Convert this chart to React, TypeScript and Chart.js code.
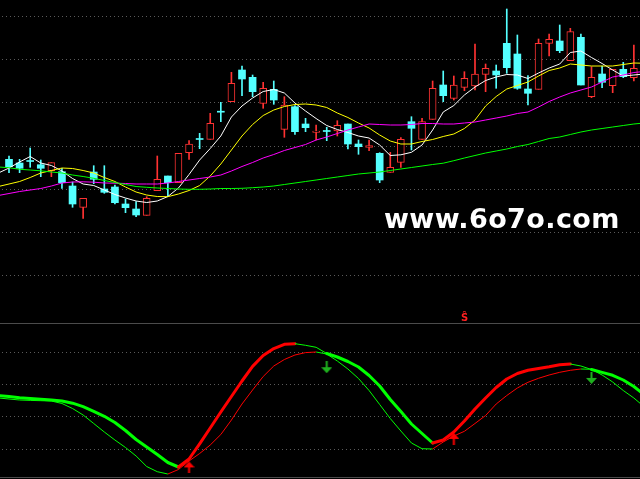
import React, { useEffect, useRef } from 'react';
import { Chart, registerables } from 'chart.js';

Chart.register(...registerables);

// ---- data (price units for the candle panel, indicator units for the lower panel) ----
const candleIdx = Array.from({ length: 60 }, (_, i) => i);
const lineIdx = [-1, ...candleIdx, 60];

const openP = [14.07, 13.7, 13.95, 13.53, 12.93, 12.83, 11.4, 9.27, 12.8, 11.1, 11.3, 9.6, 9.1, 8.47, 10.93, 12.4, 11.73, 14.73, 16.15, 16.07,
  18.88, 19.83, 23.0, 22.27, 19.67, 21.07, 17.07, 19.33, 17.6, 16.77, 16.95, 16.9, 17.6, 15.6, 15.27, 14.67, 12.77, 13.77, 17.83, 16.07,
  18.07, 21.5, 20.17, 21.27, 21.4, 22.57, 22.9, 25.67, 24.6, 21.1, 21.07, 25.67, 25.9, 23.93, 26.27, 20.33, 22.6, 21.43, 23.07, 22.23];
const highP = [14.4, 14.07, 15.2, 14.0, 13.73, 13.17, 11.8, 10.17, 13.43, 13.43, 11.5, 10.1, 9.83, 10.33, 14.4, 12.4, 14.67, 15.93, 16.67, 18.67,
  19.77, 22.77, 23.4, 22.5, 21.77, 21.9, 20.33, 19.43, 18.17, 17.5, 17.27, 17.93, 17.6, 16.0, 16.0, 14.73, 14.77, 16.23, 18.33, 18.17,
  21.9, 22.9, 22.4, 22.83, 25.6, 23.6, 23.5, 29.1, 26.5, 22.43, 26.1, 26.6, 27.5, 27.17, 26.6, 23.33, 23.4, 23.07, 23.77, 25.5];
const lowP = [12.73, 12.73, 13.27, 12.33, 12.33, 11.17, 9.27, 8.17, 11.63, 10.67, 9.6, 8.73, 8.33, 8.47, 10.93, 10.33, 11.73, 14.07, 15.13, 16.07,
  17.83, 19.83, 20.43, 20.33, 19.17, 19.57, 16.27, 16.57, 16.83, 16.0, 15.93, 16.4, 15.1, 14.57, 14.93, 11.73, 12.77, 13.27, 15.0, 16.07,
  18.07, 19.83, 20.0, 20.93, 21.0, 20.83, 21.17, 22.67, 21.07, 19.5, 21.07, 24.4, 24.73, 23.93, 21.5, 20.23, 21.23, 20.73, 22.23, 21.9];
const closeP = [13.33, 13.17, 13.85, 13.17, 13.73, 11.73, 9.6, 10.17, 12.07, 10.77, 9.73, 9.23, 8.5, 10.17, 12.07, 11.73, 14.67, 15.6, 16.05, 17.67,
  18.78, 21.67, 22.1, 20.83, 21.17, 20.0, 19.5, 16.83, 17.23, 16.9, 16.85, 17.47, 15.6, 15.33, 15.43, 12.0, 13.27, 16.07, 17.17, 17.83,
  21.17, 20.43, 21.5, 22.17, 22.6, 23.17, 22.5, 23.23, 21.17, 20.67, 25.67, 26.07, 24.93, 26.83, 21.5, 22.27, 21.77, 23.07, 22.33, 23.17];

const ma5 = [12.7, 13.2, 13.8, 14.35, 13.7, 13.45, 12.9, 12.15, 11.6, 11.45, 11.0, 10.55, 10.2, 9.9, 9.75, 9.9, 10.35, 11.2, 12.55, 14.0, 15.15,
  16.4, 18.3, 19.4, 20.2, 20.85, 21.05, 20.7, 19.7, 18.9, 18.15, 17.45, 17.05, 16.75, 16.4, 16.2, 15.5, 14.45, 14.52, 14.77, 15.5, 17.0,
  18.8, 19.45, 20.5, 21.3, 21.95, 22.3, 22.55, 22.5, 22.15, 22.7, 23.2, 23.6, 24.75, 24.9, 24.25, 23.65, 23.0, 22.4, 22.5, 22.6];
const ma10 = [11.35, 11.6, 11.85, 12.25, 12.7, 12.95, 13.2, 13.15, 12.95, 12.7, 12.25, 11.85, 11.3, 10.8, 10.5, 10.35, 10.33, 10.6, 10.95, 11.45,
  12.4, 13.6, 15.0, 16.4, 17.55, 18.45, 19.0, 19.35, 19.55, 19.6, 19.5, 19.25, 18.7, 18.25, 17.7, 17.2, 16.5, 15.9, 15.6, 15.6, 15.85, 16.05,
  16.35, 16.6, 17.15, 18.0, 19.4, 20.35, 21.1, 21.45, 21.8, 22.4, 22.95, 23.2, 23.6, 23.5, 23.4, 23.4, 23.4, 23.55, 23.7, 23.67];
const ma20 = [10.45, 10.65, 10.85, 11.0, 11.15, 11.4, 11.7, 11.8, 11.82, 11.78, 11.7, 11.68, 11.65, 11.6, 11.6, 11.6, 11.7, 11.85, 12.0, 12.15,
  12.3, 12.5, 12.9, 13.35, 13.75, 14.2, 14.55, 14.95, 15.25, 15.55, 16.0, 16.3, 16.65, 17.0, 17.3, 17.6, 17.55, 17.5, 17.5, 17.55, 17.65,
  17.65, 17.6, 17.6, 17.7, 17.8, 18.0, 18.2, 18.4, 18.65, 18.8, 19.3, 19.85, 20.3, 20.7, 21.0, 21.3, 21.8, 22.3, 22.5, 22.75, 22.85];
const ma60 = [13.3, 13.23, 13.07, 13.0, 12.92, 12.8, 12.7, 12.5, 12.35, 12.17, 11.95, 11.75, 11.55, 11.35, 11.27, 11.2, 11.15, 11.1, 11.07, 11.07,
  11.1, 11.15, 11.15, 11.17, 11.23, 11.3, 11.4, 11.55, 11.7, 11.85, 12.0, 12.15, 12.3, 12.45, 12.6, 12.7, 12.8, 12.95, 13.1, 13.25, 13.4,
  13.55, 13.68, 13.93, 14.2, 14.45, 14.7, 14.9, 15.1, 15.35, 15.55, 15.85, 16.15, 16.3, 16.55, 16.8, 17.0, 17.15, 17.3, 17.45, 17.6, 17.7];

const kLine = [10.45, 10.35, 10.23, 10.15, 10.07, 10.0, 9.9, 9.68, 9.33, 8.87, 8.37, 7.75, 6.95, 6.05, 5.3, 4.55, 3.75, 3.3, 4.1, 5.62, 7.2,
  8.8, 10.35, 11.9, 13.36, 14.45, 15.14, 15.57, 15.63, 15.47, 15.27, 14.65, 14.3, 13.85, 13.3, 12.45, 11.4, 10.05, 8.85, 7.6, 6.65, 5.7,
  6.0, 6.8, 7.9, 9.1, 10.2, 11.25, 12.1, 12.65, 12.97, 13.15, 13.32, 13.52, 13.6, 13.4, 13.05, 12.76, 12.47, 12.0, 11.35, 10.5];
const dLine = [10.2, 10.1, 10.0, 9.96, 9.93, 9.9, 9.65, 9.15, 8.5, 7.65, 6.8, 6.0, 5.25, 4.4, 3.35, 2.83, 2.6, 3.05, 3.9, 4.65, 5.5, 6.55,
  8.0, 9.6, 11.0, 12.35, 13.4, 14.05, 14.5, 14.74, 14.8, 14.6, 13.9, 13.1, 12.15, 10.95, 9.55, 8.15, 6.9, 5.7, 5.13, 5.1, 5.8, 6.4, 6.87,
  7.65, 8.45, 9.6, 10.45, 11.2, 11.77, 12.17, 12.5, 12.77, 12.97, 13.1, 13.07, 12.5, 11.8, 10.95, 10.2, 9.3];

const upSignalIdx = [17, 42];
const upSignalVal = [3.26, 6.11];
const downSignalIdx = [30, 55];
const downSignalVal = [13.28, 12.21];

const priceGrid = [2.47, 6.79, 11.11, 15.43, 19.75, 24.07, 28.39];
const indicatorGrid = [5.13, 8.37, 11.57, 14.77];
const panelBorders = [17.67, 2.3];

// ---- styles ----
const RED = '#ff3232';
const CYAN = '#54ffff';
const LRED = '#ff0000';
const LGREEN = '#00ff00';

const regimeAt = (x: number) => {
  let last = -Infinity;
  let r = 'down';
  upSignalIdx.forEach((s) => { if (s <= x && s > last) { last = s; r = 'up'; } });
  downSignalIdx.forEach((s) => { if (s <= x && s > last) { last = s; r = 'down'; } });
  return r;
};

function makeArrow(color: string, up: boolean) {
  const c = document.createElement('canvas');
  c.width = 11;
  c.height = 12;
  const g = c.getContext('2d')!;
  g.fillStyle = color;
  g.beginPath();
  if (up) {
    g.moveTo(5.5, 0); g.lineTo(11, 6); g.lineTo(0, 6); g.closePath(); g.fill();
    g.fillRect(4.5, 6, 2, 6);
  } else {
    g.fillRect(4.5, 0, 2, 6);
    g.moveTo(0, 6); g.lineTo(11, 6); g.lineTo(5.5, 12); g.closePath(); g.fill();
  }
  return c;
}

const gridPlugin = {
  id: 'panelGrid',
  beforeDraw(chart: any) {
    const { ctx, width, height } = chart;
    ctx.save();
    ctx.fillStyle = '#000';
    ctx.fillRect(0, 0, width, height);
    ctx.restore();
  },
  beforeDatasetsDraw(chart: any) {
    const { ctx, chartArea, scales } = chart;
    ctx.save();
    ctx.lineWidth = 1;
    ctx.strokeStyle = '#5a5a5a';
    ctx.setLineDash([1, 3]);
    ctx.lineDashOffset = -2;
    const hline = (py: number) => {
      const y = Math.round(py) + 0.5;
      ctx.beginPath();
      ctx.moveTo(chartArea.left, y);
      ctx.lineTo(chartArea.right, y);
      ctx.stroke();
    };
    priceGrid.forEach((v) => hline(scales.y.getPixelForValue(v)));
    indicatorGrid.forEach((v) => hline(scales.y2.getPixelForValue(v)));
    ctx.setLineDash([]);
    ctx.strokeStyle = '#4b4b4b';
    panelBorders.forEach((v) => hline(scales.y2.getPixelForValue(v)));
    ctx.restore();
  },
};

export default function App() {
  const ref = useRef<HTMLCanvasElement>(null);

  useEffect(() => {
    document.body.style.margin = '0';
    document.body.style.background = '#000';
    const canvas = ref.current!;
    const isUp = candleIdx.map((i) => closeP[i] >= openP[i]);

    const maLine = (data: number[], color: string) => ({
      type: 'line' as const,
      data: lineIdx.map((x, k) => ({ x, y: data[k] })),
      borderColor: color,
      borderWidth: 1,
      pointRadius: 0,
      tension: 0,
      yAxisID: 'y',
      order: 1,
    });

    const chart = new Chart(canvas, {
      type: 'bar',
      data: {
        datasets: [
          {
            type: 'bar',
            data: candleIdx.map((i) => ({ x: i, y: [lowP[i], highP[i]] })) as any,
            backgroundColor: candleIdx.map((i) => (isUp[i] ? RED : CYAN)),
            barThickness: 1,
            grouped: false,
            yAxisID: 'y',
            order: 4,
          } as any,
          {
            type: 'bar',
            data: candleIdx.map((i) => ({ x: i, y: [openP[i], closeP[i]] })) as any,
            backgroundColor: candleIdx.map((i) => (isUp[i] ? '#000000' : CYAN)),
            borderColor: candleIdx.map((i) => (isUp[i] ? RED : CYAN)),
            borderWidth: candleIdx.map((i) => (isUp[i] ? 1 : 0)),
            borderSkipped: false,
            barThickness: 7,
            minBarLength: 1,
            grouped: false,
            yAxisID: 'y',
            order: 3,
          } as any,
          maLine(ma60, '#00ff00'),
          maLine(ma20, '#ff00ff'),
          maLine(ma10, '#ffff00'),
          maLine(ma5, '#ffffff'),
          {
            type: 'line',
            data: lineIdx.map((x, k) => ({ x, y: dLine[k] })),
            borderWidth: 1,
            borderColor: LRED,
            pointRadius: 0,
            tension: 0,
            yAxisID: 'y2',
            order: 1,
            segment: {
              borderColor: (c: any) => (c.p1.parsed.y >= c.p0.parsed.y ? LRED : LGREEN),
            },
          } as any,
          {
            type: 'line',
            data: lineIdx.map((x, k) => ({ x, y: kLine[k] })),
            borderWidth: 3,
            borderColor: LRED,
            borderJoinStyle: 'round',
            borderCapStyle: 'round',
            pointRadius: 0,
            tension: 0,
            yAxisID: 'y2',
            order: 0,
            segment: {
              borderColor: (c: any) => (c.p1.parsed.y >= c.p0.parsed.y ? LRED : LGREEN),
              borderWidth: (c: any) => {
                const rising = c.p1.parsed.y >= c.p0.parsed.y;
                return rising || regimeAt(c.p0.parsed.x) === 'down' ? 3 : 1;
              },
            },
          } as any,
          {
            type: 'line',
            data: upSignalIdx.map((x, k) => ({ x, y: upSignalVal[k] })),
            showLine: false,
            pointStyle: makeArrow('#ff0000', true),
            pointRadius: 6,
            yAxisID: 'y2',
            order: 0,
          } as any,
          {
            type: 'line',
            data: downSignalIdx.map((x, k) => ({ x, y: downSignalVal[k] })),
            showLine: false,
            pointStyle: makeArrow('#1eb01e', false),
            pointRadius: 6,
            yAxisID: 'y2',
            order: 0,
          } as any,
        ],
      },
      options: {
        responsive: false,
        animation: false,
        events: [],
        layout: { padding: 0, autoPadding: false } as any,
        plugins: { legend: { display: false }, tooltip: { enabled: false } },
        scales: {
          x: { type: 'linear', min: -0.85, max: 59.58, display: false, offset: false },
          y: { type: 'linear', min: -17.9, max: 30, display: false },
          y2: { type: 'linear', min: 2.1, max: 50, display: false },
        },
      },
      plugins: [gridPlugin],
    } as any);

    return () => chart.destroy();
  }, []);

  return (
    <div style={{ position: 'fixed', left: 0, top: 0, width: 640, height: 479, background: '#000', overflow: 'hidden' }}>
      <canvas ref={ref} width={640} height={479} style={{ display: 'block', width: 640, height: 479 }} />
      <div
        style={{
          position: 'absolute', left: 384, top: 205, color: '#ffffff',
          font: 'bold 27px "DejaVu Sans"', lineHeight: '27px', letterSpacing: '0.4px', whiteSpace: 'nowrap',
        }}
      >
        www.6o7o.com
      </div>
      <div
        style={{
          position: 'absolute', left: 461, top: 313, color: '#ff2020',
          font: 'bold 10px "DejaVu Sans"', lineHeight: '10px', whiteSpace: 'nowrap',
        }}
      >
        Ŝ
      </div>
    </div>
  );
}
